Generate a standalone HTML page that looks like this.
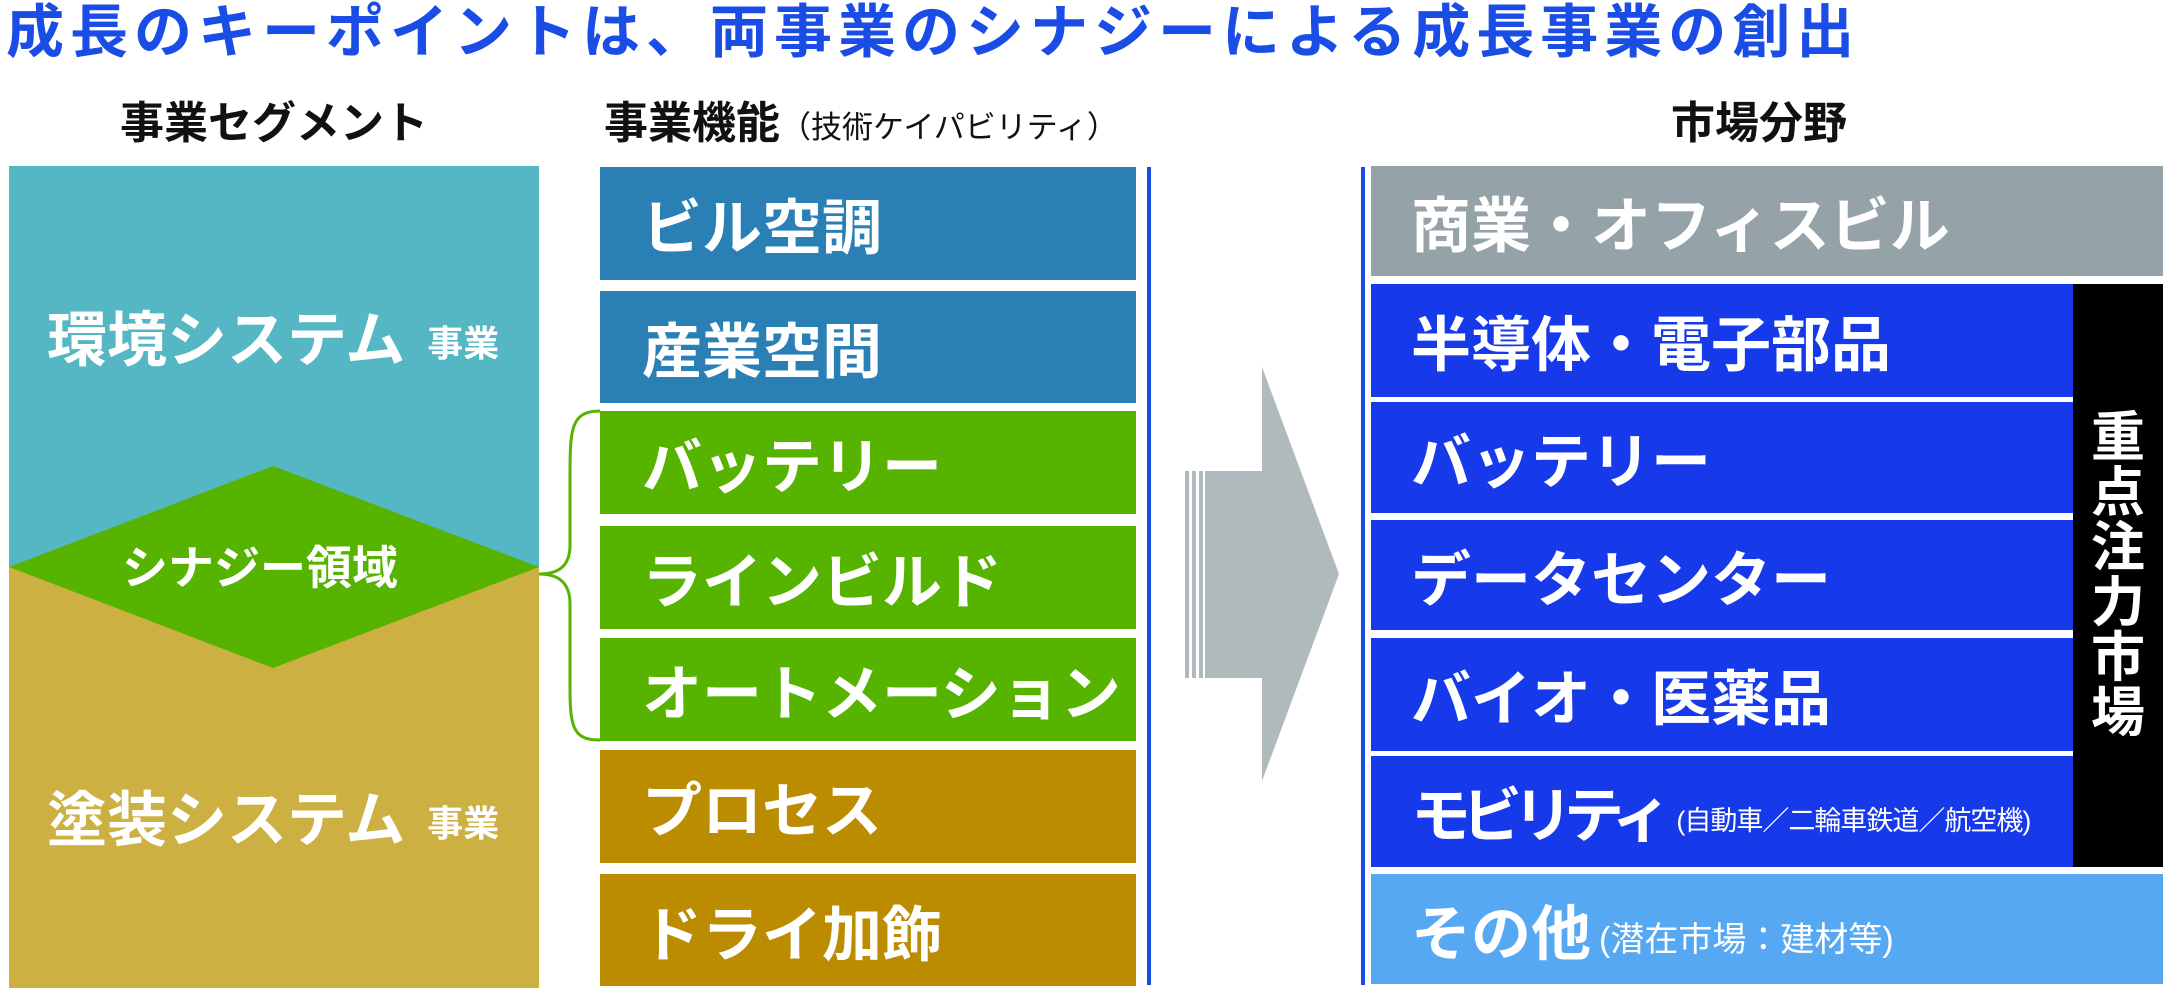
<!DOCTYPE html>
<html><head><meta charset="utf-8"><style>
*{margin:0;padding:0;box-sizing:border-box}
body{width:2170px;height:991px;background:#fff;position:relative;overflow:hidden;font-family:"Liberation Sans","Noto Sans CJK JP",sans-serif;font-weight:bold}
.a{position:absolute}
.b{position:absolute;display:flex;align-items:center;color:#fff;white-space:nowrap}
.t{font-size:60px;padding-left:42px}
.r{font-size:60px;padding-left:40px}
.s{font-size:29px;font-weight:normal;margin-left:8px;margin-top:14px}
.h{position:absolute;font-size:44px;color:#111;white-space:nowrap;line-height:50px}
</style></head><body>
<div class="a" style="left:6px;top:0;font-size:58px;color:#1a4de6;line-height:66px;white-space:nowrap;letter-spacing:6px">成長のキーポイントは、両事業のシナジーによる成長事業の創出</div>

<div class="h" style="left:120px;top:99px">事業セグメント</div>
<div class="h" style="left:604px;top:99px">事業機能<span style="font-size:31px;font-weight:normal">（技術ケイパビリティ）</span></div>
<div class="h" style="left:1671px;top:99px">市場分野</div>

<svg class="a" style="left:0;top:0" width="2170" height="991">
<rect x="9" y="166" width="530" height="401" fill="#55b6c4"/>
<rect x="9" y="567" width="530" height="421" fill="#cdb042"/>
<polygon points="9,567 273,466 539,567 273,668" fill="#56b400"/>
<path d="M600,411 C570,411 570,430 570,480 L570,545 C570,565 560,574 539,574 C560,574 570,584 570,604 L570,690 C570,730 575,740 600,740" fill="none" stroke="#56b400" stroke-width="3"/>
<rect x="1147" y="167" width="4" height="818" fill="#1a4de6"/>
<rect x="1361" y="167" width="4" height="818" fill="#1a4de6"/>
<polygon points="1185,471 1262,471 1262,367 1339,574 1262,781 1262,678 1185,678" fill="#b0b9bc"/>
<rect x="1189" y="471" width="3" height="207" fill="#fff"/>
<rect x="1196" y="471" width="3" height="207" fill="#fff"/>
<rect x="1203" y="471" width="2" height="207" fill="#fff"/>
</svg>

<div class="b" style="left:47px;top:295px;height:80px;font-size:60px">環境システム<span style="font-size:36px;margin-left:22px;margin-top:12px">事業</span></div>
<div class="b" style="left:47px;top:775px;height:80px;font-size:60px">塗装システム<span style="font-size:36px;margin-left:22px;margin-top:12px">事業</span></div>
<div class="b" style="left:122px;top:537px;height:56px;font-size:46px">シナジー領域</div>

<div class="b t" style="left:600px;top:167px;width:536px;height:113px;background:#2a80b5">ビル空調</div>
<div class="b t" style="left:600px;top:291px;width:536px;height:112px;background:#2a80b5">産業空間</div>
<div class="b t" style="left:600px;top:411px;width:536px;height:103px;background:#56b400">バッテリー</div>
<div class="b t" style="left:600px;top:526px;width:536px;height:103px;background:#56b400">ラインビルド</div>
<div class="b t" style="left:600px;top:638px;width:536px;height:103px;background:#56b400">オートメーション</div>
<div class="b t" style="left:600px;top:750px;width:536px;height:113px;background:#bb8b00">プロセス</div>
<div class="b t" style="left:600px;top:874px;width:536px;height:112px;background:#bb8b00">ドライ加飾</div>

<div class="b r" style="left:1371px;top:166px;width:792px;height:110px;background:#95a3a8">商業・オフィスビル</div>
<div class="b r" style="left:1371px;top:284px;width:702px;height:113px;background:#1639ea">半導体・電子部品</div>
<div class="b r" style="left:1371px;top:402px;width:702px;height:111px;background:#1639ea">バッテリー</div>
<div class="b r" style="left:1371px;top:520px;width:702px;height:110px;background:#1639ea">データセンター</div>
<div class="b r" style="left:1371px;top:638px;width:702px;height:113px;background:#1639ea">バイオ・医薬品</div>
<div class="b r" style="left:1371px;top:756px;width:702px;height:111px;background:#1639ea"><span style="letter-spacing:-9px">モビリティ</span><span class="s" style="margin-left:14px;font-size:27px;letter-spacing:-1px">(自動車／二輪車鉄道／航空機)</span></div>
<div class="b" style="left:2073px;top:284px;width:90px;height:583px;background:#000;justify-content:center">
<div style="font-size:54px;line-height:55px;width:56px;text-align:center;white-space:normal">重点注力市場</div></div>
<div class="b r" style="left:1371px;top:874px;width:792px;height:110px;background:#57a8f2">その他<span class="s" style="font-size:34px">(潜在市場：建材等)</span></div>
</body></html>
